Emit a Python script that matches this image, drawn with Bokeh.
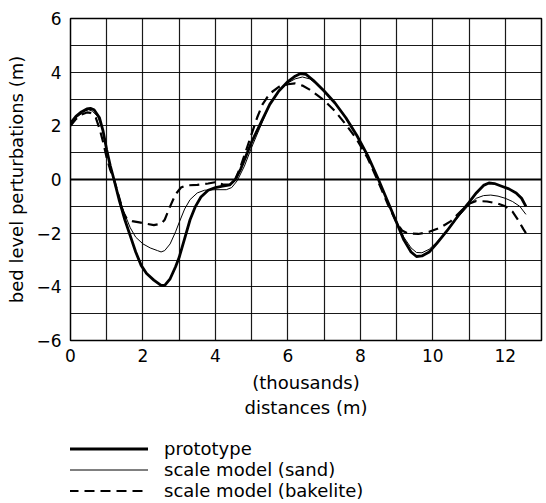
from bokeh.plotting import figure
from bokeh.layouts import column
from bokeh.models import FixedTicker, Legend, LegendItem, Span, Range1d
from bokeh.embed import file_html
from bokeh.resources import INLINE

# distance (thousands of m) and bed level perturbation (m)
proto_x = [0, 0.15, 0.3, 0.45, 0.55, 0.65, 0.8, 0.9, 1.0, 1.1, 1.2, 1.35, 1.5, 1.65, 1.8, 1.95, 2.1, 2.3, 2.5, 2.6, 2.75, 2.9, 3.0, 3.15, 3.3, 3.45, 3.6, 3.8, 4.0, 4.2, 4.4, 4.55, 4.7, 4.85, 5.0, 5.25, 5.5, 5.75, 6.0, 6.2, 6.35, 6.5, 6.7, 7.0, 7.3, 7.6, 7.9, 8.2, 8.5, 8.75, 9.0, 9.2, 9.4, 9.55, 9.7, 9.9, 10.1, 10.4, 10.7, 11.0, 11.2, 11.4, 11.55, 11.7, 11.9, 12.1, 12.3, 12.45, 12.57]
proto_y = [2.1, 2.35, 2.52, 2.63, 2.65, 2.6, 2.3, 1.8, 1.1, 0.5, 0.0, -0.8, -1.5, -2.1, -2.7, -3.2, -3.5, -3.75, -3.95, -3.95, -3.7, -3.25, -2.9, -2.2, -1.5, -1.0, -0.65, -0.4, -0.3, -0.25, -0.2, 0.0, 0.4, 0.9, 1.4, 2.1, 2.8, 3.3, 3.65, 3.85, 3.95, 3.92, 3.7, 3.3, 2.85, 2.3, 1.65, 0.9, 0.0, -0.8, -1.6, -2.25, -2.7, -2.87, -2.85, -2.7, -2.4, -1.9, -1.35, -0.85, -0.5, -0.22, -0.13, -0.15, -0.25, -0.35, -0.5, -0.7, -1.0]

sand_x = [0, 0.2, 0.4, 0.5, 0.6, 0.75, 0.9, 1.0, 1.1, 1.2, 1.35, 1.5, 1.65, 1.8, 2.0, 2.2, 2.4, 2.5, 2.6, 2.75, 2.9, 3.0, 3.15, 3.3, 3.5, 3.7, 4.0, 4.3, 4.45, 4.6, 4.8, 5.0, 5.25, 5.5, 5.75, 6.0, 6.2, 6.4, 6.6, 6.8, 7.0, 7.3, 7.6, 7.9, 8.2, 8.5, 8.75, 9.0, 9.2, 9.4, 9.55, 9.7, 9.9, 10.1, 10.4, 10.7, 11.0, 11.2, 11.4, 11.6, 11.8, 12.0, 12.2, 12.4, 12.57]
sand_y = [2.1, 2.35, 2.55, 2.6, 2.55, 2.35, 1.8, 1.1, 0.5, 0.0, -0.7, -1.3, -1.8, -2.15, -2.4, -2.55, -2.65, -2.7, -2.65, -2.4, -1.95, -1.6, -1.1, -0.75, -0.5, -0.4, -0.38, -0.38, -0.3, -0.05, 0.5, 1.2, 2.0, 2.8, 3.3, 3.6, 3.75, 3.82, 3.75, 3.55, 3.3, 2.85, 2.3, 1.65, 0.9, 0.0, -0.8, -1.55, -2.15, -2.55, -2.72, -2.73, -2.6, -2.35, -1.9, -1.4, -0.95, -0.7, -0.6, -0.58, -0.62, -0.7, -0.82, -1.0, -1.3]

bake_x = [0, 0.15, 0.3, 0.45, 0.55, 0.7, 0.8, 0.9, 1.0, 1.1, 1.2, 1.35, 1.45, 1.55, 1.7, 1.9, 2.1, 2.3, 2.5, 2.6, 2.75, 2.9, 3.05, 3.2, 3.5, 3.8, 4.0, 4.2, 4.4, 4.55, 4.7, 4.85, 5.0, 5.15, 5.3, 5.5, 5.75, 6.0, 6.2, 6.4, 6.6, 6.8, 7.0, 7.3, 7.6, 7.9, 8.2, 8.5, 8.75, 9.0, 9.15, 9.3, 9.6, 9.9, 10.2, 10.5, 10.8, 11.0, 11.2, 11.5, 11.8, 12.0, 12.2, 12.35, 12.5, 12.57]
bake_y = [2.0, 2.25, 2.42, 2.5, 2.48, 2.3, 1.9, 1.4, 0.8, 0.35, 0.0, -0.7, -1.2, -1.45, -1.55, -1.6, -1.65, -1.7, -1.65, -1.5, -1.0, -0.55, -0.3, -0.22, -0.2, -0.15, -0.1, -0.18, -0.2, 0.0, 0.5, 1.1, 1.7, 2.3, 2.8, 3.2, 3.45, 3.55, 3.58, 3.5, 3.35, 3.15, 2.95, 2.55, 2.05, 1.5, 0.8, -0.1, -0.9, -1.6, -1.9, -2.0, -2.03, -1.95, -1.8, -1.55, -1.15, -0.9, -0.8, -0.82, -0.9, -1.0, -1.2, -1.5, -1.85, -2.0]

x_ticks = [0, 2, 4, 6, 8, 10, 12]
y_ticks = [-6, -4, -2, 0, 2, 4, 6]
labels = ["prototype", "scale model (sand)", "scale model (bakelite)"]

FONT = "DejaVu Sans"
STYLES = [dict(line_color="black", line_width=2.8, line_join="round"),
          dict(line_color="black", line_width=1.0, line_join="round"),
          dict(line_color="black", line_width=2.2, line_dash="10 6")]

p = figure(width=546, height=420, output_backend="svg", toolbar_location=None,
           x_range=Range1d(0, 13), y_range=Range1d(-6, 6),
           min_border_left=70, min_border_right=5, min_border_top=18, min_border_bottom=78)

p.outline_line_color = "black"
p.outline_line_width = 1.5
p.background_fill_color = "white"
p.border_fill_color = "white"

for ax in (p.xaxis[0], p.yaxis[0]):
    ax.axis_line_color = None
    ax.major_tick_line_color = None
    ax.minor_tick_line_color = None
    ax.major_label_text_font = FONT
    ax.major_label_text_font_size = "17px"
    ax.major_label_text_color = "black"
    ax.axis_label_text_font = FONT
    ax.axis_label_text_font_size = "18px"
    ax.axis_label_text_font_style = "normal"
    ax.axis_label_text_color = "black"

p.xaxis.ticker = FixedTicker(ticks=x_ticks)
p.yaxis.ticker = FixedTicker(ticks=y_ticks)
p.xaxis.major_label_standoff = 2
p.yaxis.major_label_standoff = 3
p.xaxis.axis_label = "(thousands)\ndistances (m)"
p.xaxis.axis_label_standoff = 7
p.yaxis.axis_label = "bed level perturbations (m)"
p.yaxis.axis_label_standoff = 6

p.xgrid.ticker = FixedTicker(ticks=list(range(0, 14)))
p.ygrid.ticker = FixedTicker(ticks=list(range(-6, 7)))
for g in (p.xgrid[0], p.ygrid[0]):
    g.grid_line_color = "black"
    g.grid_line_width = 1.2
    g.grid_line_alpha = 0.9

p.add_layout(Span(location=0, dimension="width", line_color="black", line_width=2))

p.line(proto_x, proto_y, **STYLES[0])
p.line(sand_x, sand_y, **STYLES[1])
p.line(bake_x, bake_y, **STYLES[2])

# legend panel below the chart (its frame is aligned with the chart's frame)
q = figure(width=546, height=83, output_backend="svg", toolbar_location=None,
           x_range=Range1d(0, 1), y_range=Range1d(0, 1),
           min_border=0, x_axis_location=None, y_axis_location=None)
q.outline_line_color = None
q.grid.visible = False
q.border_fill_color = "white"
q.background_fill_color = "white"
nan = float("nan")
rs = [q.line(x=[nan, nan], y=[nan, nan], **s) for s in STYLES]

legend = Legend(items=[LegendItem(label=l, renderers=[r]) for l, r in zip(labels, rs)],
                location=(-2, 2), orientation="vertical",
                glyph_width=80, glyph_height=21, label_height=21, label_standoff=16,
                spacing=0, padding=0, margin=0,
                border_line_color=None, background_fill_alpha=0,
                label_text_font=FONT, label_text_font_size="18px", label_text_color="black")
q.add_layout(legend, "center")

open("out.html", "w").write(file_html(column(p, q, spacing=0), INLINE))
